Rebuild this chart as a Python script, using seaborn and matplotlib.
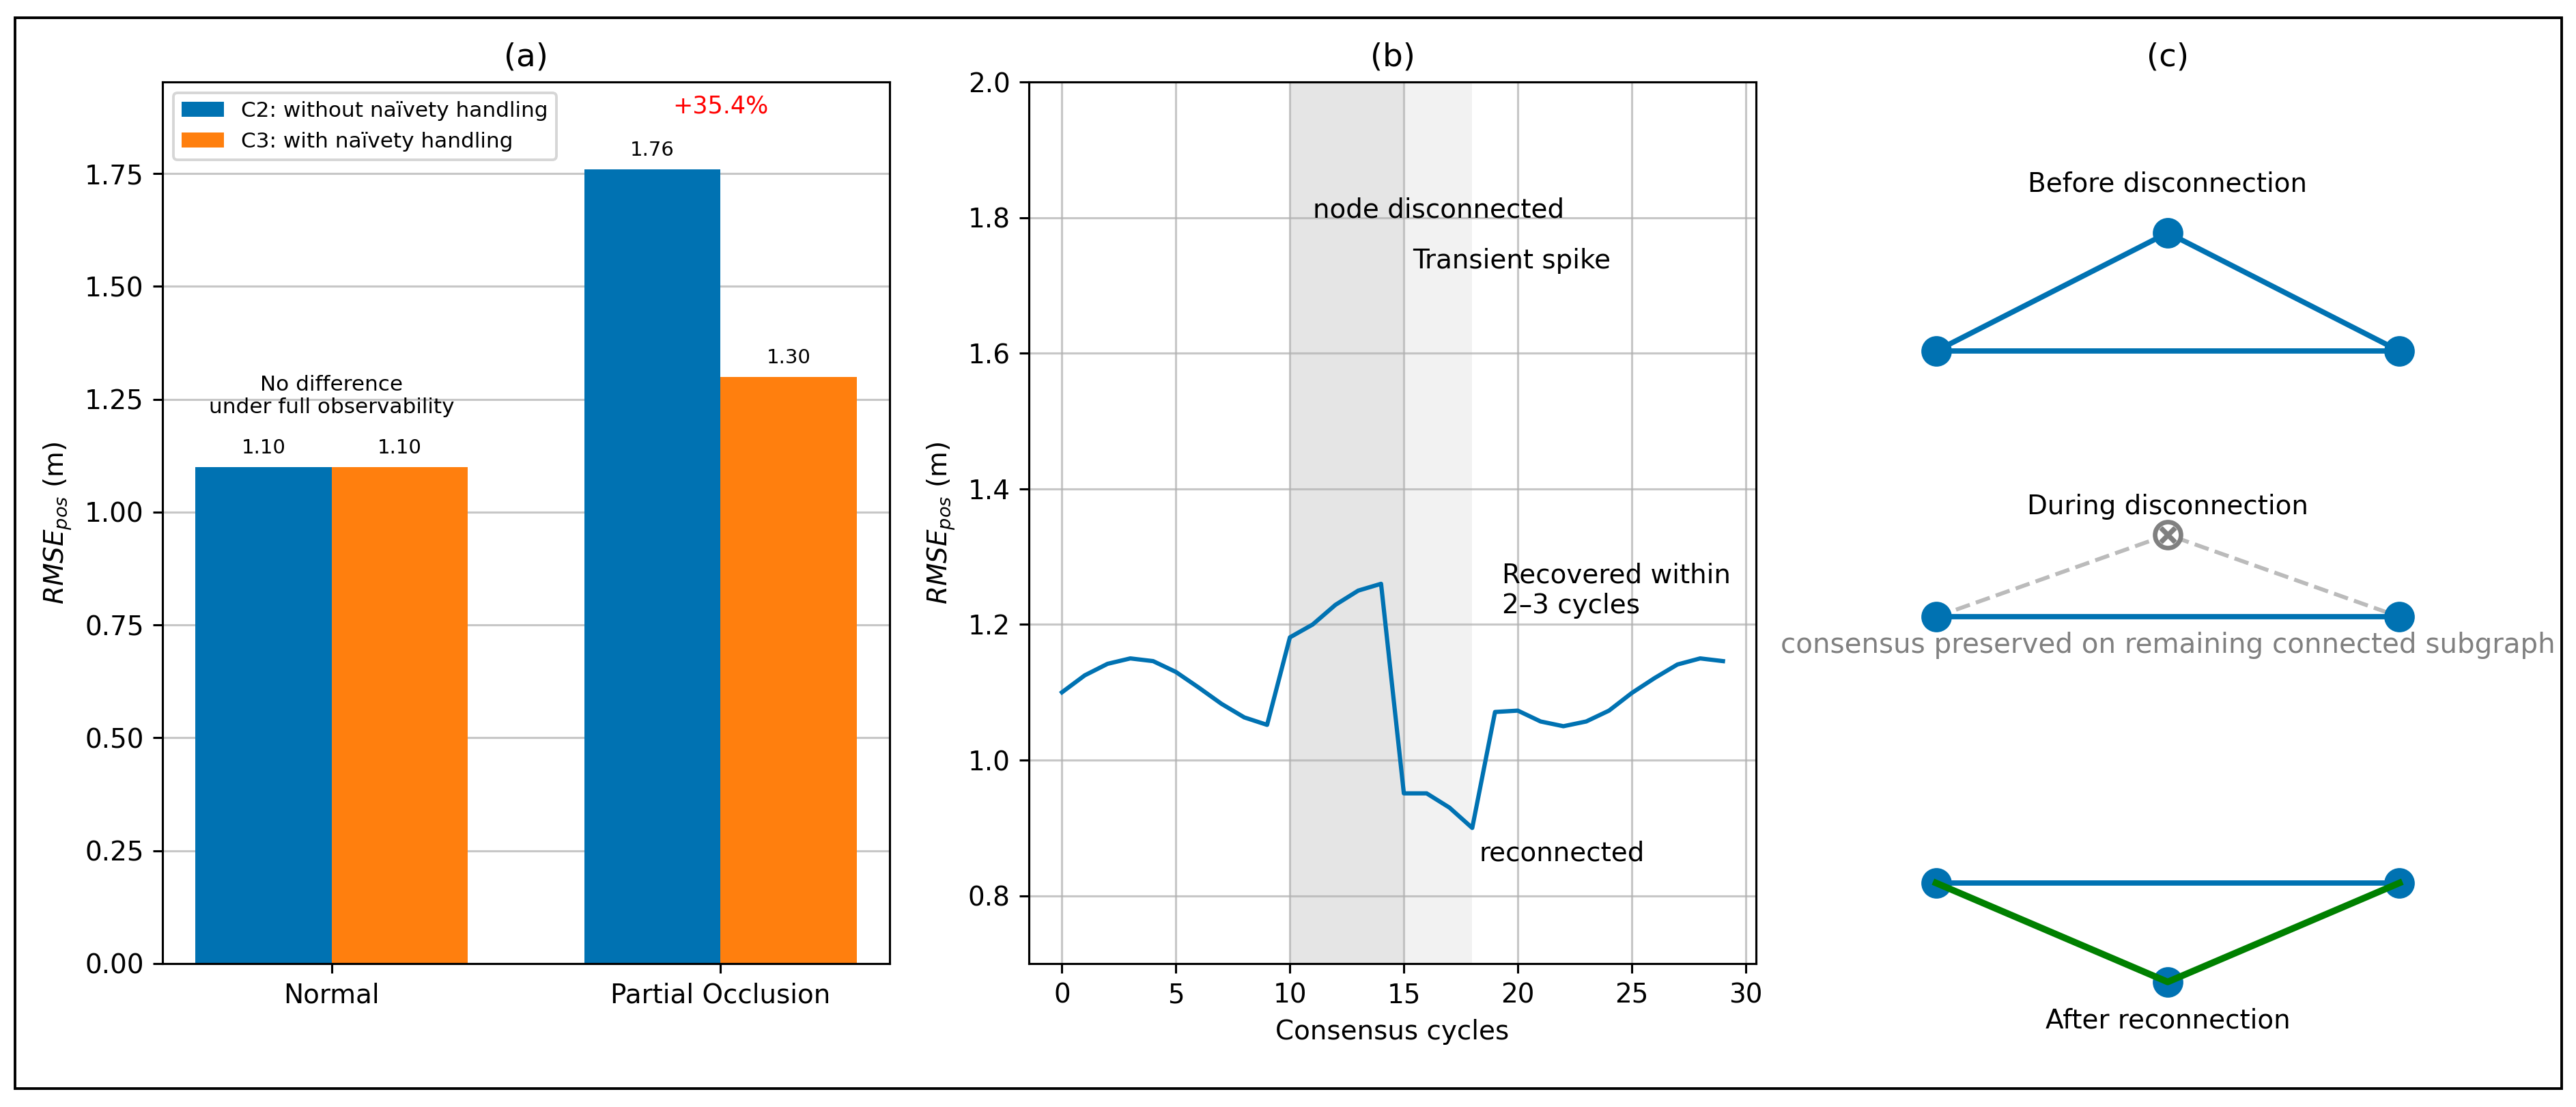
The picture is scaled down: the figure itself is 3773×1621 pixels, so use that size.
import numpy as np
import pandas as pd
import seaborn as sns
import matplotlib.pyplot as plt
from matplotlib.patches import Rectangle

# data
scenarios = ['Normal', 'Partial Occlusion']
method_labels = ['C2: without naïvety handling', 'C3: with naïvety handling']
c2_rmse = [1.10, 1.76]
c3_rmse = [1.10, 1.30]
increase_label = '+35.4%'

cycles = list(range(30))
rmse_cycle = [1.100, 1.125, 1.142, 1.150, 1.146, 1.130, 1.107, 1.083, 1.063, 1.052,
              1.181, 1.200, 1.229, 1.250, 1.260, 0.951, 0.951, 0.930, 0.900, 1.071,
              1.073, 1.057, 1.050, 1.057, 1.073, 1.099, 1.121, 1.141, 1.150, 1.146]
disconnect_span = (10, 15)
spike_span = (15, 18)

# graph schematic for (c): node x positions and row heights
node_x = [-1.0, 0.0, 1.0]
before_y = [3.083, 3.593, 3.083]
during_y = [1.936, 2.290, 1.936]
after_y = [0.787, 0.360, 0.787]

BLUE = '#0072B2'
ORANGE = '#FF7F0E'
GREEN = 'green'

W, H, DPI = 3773, 1621, 280
fig = plt.figure(figsize=(W / DPI, H / DPI), dpi=DPI)


def px_axes(left, top, right, bottom):
    return fig.add_axes([left / W, 1 - bottom / H, (right - left) / W, (bottom - top) / H])


ax_a = px_axes(238, 120, 1303, 1411)
ax_b = px_axes(1507, 120, 2572, 1411)
ax_c = px_axes(2700, 120, 3650, 1560)

# (a) bars
df = pd.DataFrame({
    'scenario': scenarios * 2,
    'rmse': c2_rmse + c3_rmse,
    'method': [method_labels[0]] * len(scenarios) + [method_labels[1]] * len(scenarios),
})
sns.barplot(data=df, x='scenario', y='rmse', hue='method', palette=[BLUE, ORANGE],
            saturation=1, width=0.7, errorbar=None, ax=ax_a, zorder=2)
for cont in ax_a.containers:
    ax_a.bar_label(cont, fmt='%.2f', padding=3.5, fontsize=7.5)
ax_a.set_xlim(-0.435, 1.435)
ax_a.set_ylim(0, 1.953)
ax_a.yaxis.grid(True, alpha=0.7)
ax_a.set_axisbelow(True)
ax_a.set_xlabel('')
ax_a.set_ylabel(r'$RMSE_{pos}$ (m)')
ax_a.set_title('(a)')
h, l = ax_a.get_legend_handles_labels()
ax_a.legend(h, l, loc='upper left', fontsize=8)
ax_a.text(0, 1.21, 'No difference\nunder full observability', ha='center', va='bottom', fontsize=8)
ax_a.text(1, 1.90, increase_label, color='red', ha='center', va='center', fontsize=9)

# (b) line
ax_b.axvspan(*disconnect_span, color='gray', alpha=0.2, lw=0)
ax_b.axvspan(*spike_span, color='gray', alpha=0.1, lw=0)
sns.lineplot(x=cycles, y=rmse_cycle, color=BLUE, lw=1.6, ax=ax_b)
ax_b.set_ylim(0.7, 2.0)
ax_b.set_yticks([0.8, 1.0, 1.2, 1.4, 1.6, 1.8, 2.0])
ax_b.set_xticks(range(0, 31, 5))
ax_b.grid(True, alpha=0.7)
ax_b.set_xlabel('Consensus cycles')
ax_b.set_ylabel(r'$RMSE_{pos}$ (m)')
ax_b.set_title('(b)')
ax_b.text(11, 1.8, 'node disconnected', fontsize=10)
ax_b.text(15.4, 1.725, 'Transient spike', fontsize=10)
ax_b.text(19.3, 1.217, 'Recovered within\n2–3 cycles', fontsize=10)
ax_b.text(18.3, 0.852, 'reconnected', fontsize=10)

# (c) schematic
ax_c.set_xlim(-1.4, 1.4)
ax_c.set_ylim(0, 4.244)
ax_c.axis('off')
ax_c.set_title('(c)')
ms = 10.5

# before
ax_c.plot(node_x + [node_x[0]], before_y + [before_y[0]], color=BLUE, lw=2, zorder=2)
ax_c.plot(node_x, before_y, 'o', color=BLUE, ms=ms, zorder=3)
ax_c.text(0, 3.802, 'Before disconnection', ha='center', va='center', fontsize=10)

# during
ax_c.plot(node_x, during_y, '--', color='#bbbbbb', lw=1.5, zorder=1)
ax_c.plot([node_x[0], node_x[2]], [during_y[0], during_y[2]], color=BLUE, lw=2, zorder=2)
ax_c.plot([node_x[0], node_x[2]], [during_y[0], during_y[2]], 'o', color=BLUE, ms=ms, zorder=3)
ax_c.plot(node_x[1], during_y[1], 'o', color='white', ms=10, zorder=3)
ax_c.plot(node_x[1], during_y[1], marker=r'$\otimes$', color='gray', ms=11, mew=0.5, zorder=4)
ax_c.text(0, 2.411, 'During disconnection', ha='center', va='center', fontsize=10)
ax_c.text(0, 1.813, 'consensus preserved on remaining connected subgraph',
          ha='center', va='center', fontsize=10.4, color='gray')

# after
ax_c.plot([node_x[0], node_x[2]], [after_y[0], after_y[2]], color=BLUE, lw=2, zorder=2)
ax_c.plot(node_x, after_y, 'o', color=BLUE, ms=ms, zorder=3)
ax_c.plot(node_x, after_y, color=GREEN, lw=2.5, zorder=4)
ax_c.text(0, 0.192, 'After reconnection', ha='center', va='center', fontsize=10)

# outer frame
fig.patches.append(Rectangle((22 / W, 1 - 1594 / H), (3752 - 22) / W, (1594 - 26) / H,
                             transform=fig.transFigure, fill=False, ec='black', lw=1.0))

fig.savefig('out.png', dpi=DPI, facecolor='white')
